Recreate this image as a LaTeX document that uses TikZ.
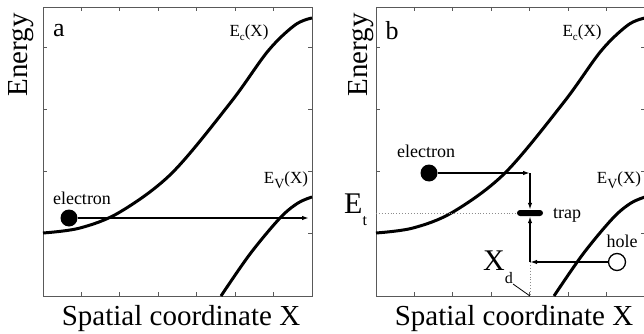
\documentclass[tikz,border=0pt]{standalone}
\usepackage{fontspec}
\setmainfont{Liberation Serif}
\usetikzlibrary{arrows.meta}

\begin{document}
\begin{tikzpicture}[x=1pt,y=-1pt,
  >={Latex[length=7pt,width=4.5pt]},
  frame/.style={draw=black!65,line width=0.8pt},
  tick/.style={draw=black!65,line width=0.7pt},
  band/.style={line width=3pt},
  flow/.style={line width=1.4pt},
  guide/.style={draw=black!45,line width=0.9pt,dotted},
  axislbl/.style={font=\fontsize{29}{29}\selectfont,inner sep=0pt},
  panellbl/.style={font=\fontsize{26}{26}\selectfont,inner sep=0pt},
  bandlbl/.style={font=\fontsize{17}{17}\selectfont,inner sep=0pt},
  lbl/.style={font=\fontsize{18}{18}\selectfont,inner sep=0pt,anchor=base},
  biglbl/.style={font=\fontsize{30}{30}\selectfont,inner sep=0pt,anchor=base west},
  electron/.style={circle,fill=black,minimum size=17pt,inner sep=0pt},
  hole/.style={circle,draw=black,fill=white,line width=1.3pt,minimum size=17pt,inner sep=0pt},
  trapbar/.style={fill=black,rounded corners=3pt,minimum width=26pt,minimum height=6pt,inner sep=0pt}
]
\useasboundingbox (0,0) rectangle (644,334);

% both panels: frame, ticks, bands
\foreach \px/\pn/\ex in {0/a/21,333/b/28}{
\begin{scope}[xshift=\px pt]
  \draw[frame] (43,7) rectangle (312,296);
  \foreach \k in {1,...,6}{
    \draw[tick] ({43+38.4*\k},296) -- ++(0,-4);
    \draw[tick] ({43+38.4*\k},7) -- ++(0,4);
  }
  \foreach \ty in {47,109,171,233}{
    \draw[tick] (43,\ty) -- ++(4,0);
    \draw[tick] (312,\ty) -- ++(-4,0);
  }
  \draw[band] plot[smooth,tension=0.55] coordinates {(43,233) (80,228) (120,212)
    (172,173) (231,102) (268,51) (295,25) (312,18)};
  \draw[band] plot[smooth,tension=0.55] coordinates {(221,296) (250,254) (280,218)
    (298,203) (312,197)};
  \node[panellbl] (pl-\pn) at (59,31) {\pn};
  \node[bandlbl] (ec-\pn) at (249,33) {E\raisebox{-4pt}{\fontsize{11}{11}\selectfont c}(X)};
  \node[bandlbl] (ev-\pn) at (286,180) {E\raisebox{-5pt}{\fontsize{14}{14}\selectfont V}(X)};
  \node[axislbl,rotate=90] (en-\pn) at (\ex,55) {Energy};
  \node[axislbl,anchor=base] (sx-\pn) at (181,325) {Spatial coordinate X};
\end{scope}
}

% panel a: electron passing through
\node[electron] (ela) at (69,218) {};
\node[lbl] (ella) at (82,204) {electron};
\coordinate (enda) at (309,218);
\draw[flow,->] (ela) -- (enda);

% panel b: capture at the trap
\node[electron] (elb) at (429,173) {};
\node[lbl] (ellb) at (426,157) {electron};
\node[trapbar] (trap) at (530,213) {};
\node[lbl] (traplbl) at (567,218) {trap};
\node[hole] (hl) at (617,262) {};
\node[lbl] (hllbl) at (622,247) {hole};
\coordinate (eturn) at (530,173);
\coordinate (hturn) at (530,262);
\coordinate (xd) at (530,296);
\coordinate (ldr) at (513,284);
\coordinate (etl) at (376,213);
\draw[guide] (etl) -- (trap.west);
\draw[guide] (hturn) -- (xd);
\draw[flow,->] (elb) -- (eturn);
\draw[flow,->] (eturn) -- (trap.north);
\draw[flow,->] (hl) -- (hturn);
\draw[flow,->] (hturn) -- (trap.south);
\node[biglbl] (etlbl) at (344,213) {E\raisebox{-12pt}{\fontsize{16}{16}\selectfont t}};
\node[biglbl] (xdlbl) at (483,270) {X\raisebox{-13pt}{\fontsize{16}{16}\selectfont d}};
\draw[line width=0.8pt] (ldr) -- (xd);
\end{tikzpicture}
\end{document}
